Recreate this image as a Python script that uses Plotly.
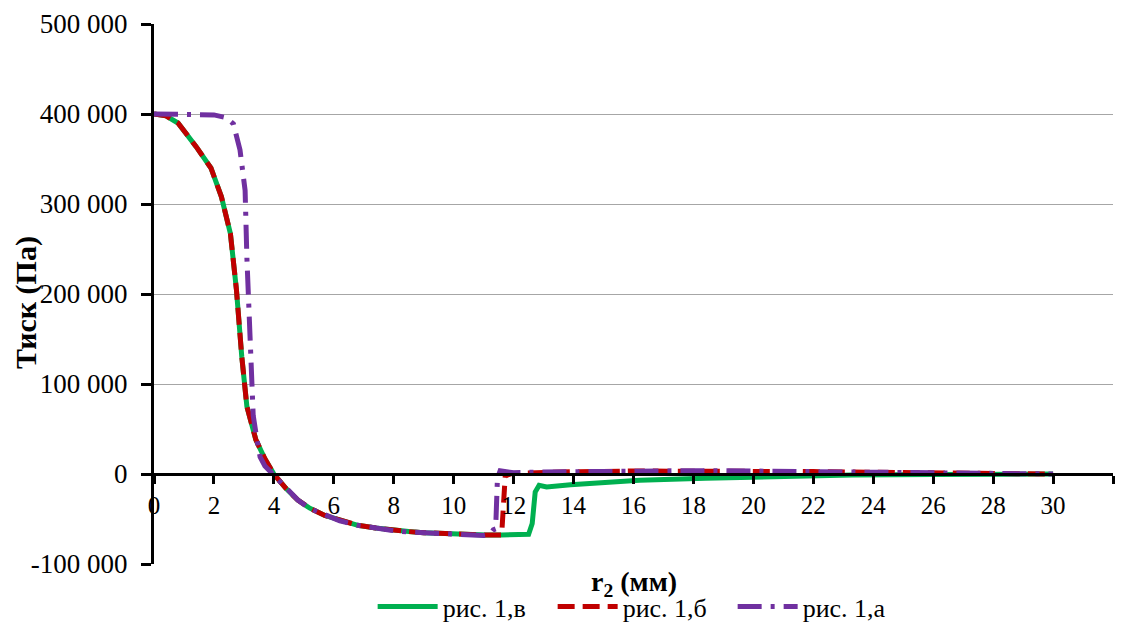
import plotly.graph_objects as go

# ---- data ----
x_v = [0, 0.4, 0.8, 1.4, 1.9, 2.25, 2.55, 2.75, 2.93, 3.1, 3.4, 3.7, 4.0, 4.4, 4.8, 5.2, 5.7, 6.2,
       6.8, 7.4, 7.9, 8.5, 9.0, 9.6, 10.1, 10.6, 11.1, 11.6, 12.0, 12.5, 12.62, 12.72, 12.85, 13.1,
       13.9, 15.4, 16.2, 18.4, 20.6, 23.3, 26.0, 30.0]
y_v = [400000, 398000, 390000, 364000, 340000, 308000, 267000, 205000, 130000, 75000, 38000, 17000,
       0, -16000, -29000, -38000, -46000, -51500, -57000, -60000, -62200, -64000, -65200, -66200,
       -67000, -67500, -67800, -67800, -67500, -67000, -55000, -20000, -12500, -14500, -12000,
       -8500, -7000, -4800, -3000, -1200, -500, 0]

x_b = [0, 0.4, 0.8, 1.4, 1.9, 2.25, 2.55, 2.75, 2.93, 3.1, 3.4, 3.7, 4.0, 4.4, 4.8, 5.2, 5.7, 6.2,
       6.8, 7.4, 7.9, 8.5, 9.0, 9.6, 10.1, 10.6, 11.1, 11.6, 11.66, 11.72, 11.95, 12.5, 14.0, 16.0,
       18.0, 20.0, 22.0, 24.0, 26.0, 28.0, 30.0]
y_b = [400000, 398000, 390000, 364000, 340000, 308000, 267000, 205000, 130000, 75000, 38000, 17000,
       0, -16000, -29000, -38000, -46000, -51500, -57000, -60000, -62200, -64000, -65200, -66200,
       -67000, -67500, -67800, -67800, -40000, -2000, 700, 1500, 2500, 3300, 3500, 3200, 2700, 2000,
       1300, 700, 0]

x_a = [0, 0.6, 1.4, 2.0, 2.4, 2.65, 2.87, 3.04, 3.1, 3.2, 3.26, 3.31, 3.42, 3.54, 3.7, 3.85, 4.0,
       4.4, 4.8, 5.2, 5.7, 6.2, 6.8, 7.4, 7.9, 8.5, 9.0, 9.6, 10.1, 10.6, 11.0, 11.2, 11.32, 11.4,
       11.46, 11.55, 11.7, 12.0, 13.0, 14.0, 16.0, 18.0, 20.0, 22.0, 24.0, 26.0, 28.0, 30.0]
y_a = [400000, 400000, 400000, 399000, 396000, 389000, 360000, 315000, 240000, 167000, 100000, 65000,
       41500, 19000, 9000, 4000, -1000, -16000, -29000, -38500, -46000, -52000, -57000, -60500,
       -62500, -64500, -65500, -66500, -67200, -67800, -68300, -67000, -62000, -61000, -5000, 3500,
       3000, 1500, 2200, 2600, 3500, 3700, 3300, 2800, 2000, 1300, 700, 0]

y_tickvals = [-100000, 0, 100000, 200000, 300000, 400000, 500000]
y_ticktext = ["-100 000", "0", "100 000", "200 000", "300 000", "400 000", "500 000"]
x_tickvals = [0, 2, 4, 6, 8, 10, 12, 14, 16, 18, 20, 22, 24, 26, 28, 30, 32]

FONT = "Liberation Serif, Times New Roman, serif"

# page has an 8px body margin: figure is sized to fit inside the 1127x624 window
W, H = 1111, 616

fig = go.Figure()
fig.add_trace(go.Scatter(x=x_v, y=y_v, mode="lines", name="рис. 1,в",
                         line=dict(color="#00b050", width=5)))
fig.add_trace(go.Scatter(x=x_b, y=y_b, mode="lines", name="рис. 1,б",
                         line=dict(color="#c00000", width=5, dash="17px,8px")))
fig.add_trace(go.Scatter(x=x_a, y=y_a, mode="lines", name="рис. 1,а",
                         line=dict(color="#7030a0", width=5, dash="24px,9px,4px,9px")))

fig.update_layout(
    width=W, height=H,
    margin=dict(l=146, r=6, t=16, b=60, autoexpand=False),
    paper_bgcolor="white", plot_bgcolor="white",
    font=dict(family=FONT, size=25, color="black"),
    showlegend=True,
    legend=dict(orientation="h", x=0.228, xanchor="left", y=-0.079, yanchor="middle",
                font=dict(family=FONT, size=26), bgcolor="rgba(0,0,0,0)",
                itemwidth=60, entrywidth=105, tracegroupgap=0),
    xaxis=dict(range=[0, 32], tickvals=x_tickvals, ticktext=[str(v) for v in x_tickvals],
               anchor="free", position=1/6, showline=True, linecolor="black", linewidth=3,
               ticks="outside", ticklen=8, tickwidth=3, tickcolor="black",
               showgrid=False, zeroline=False, tickfont=dict(family=FONT, size=25)),
    yaxis=dict(range=[-100000, 500000], tickvals=y_tickvals, ticktext=y_ticktext,
               showline=True, linecolor="black", linewidth=3,
               ticks="outside", ticklen=10, tickwidth=3, tickcolor="black",
               showgrid=True, gridcolor="#a6a6a6", gridwidth=1, zeroline=False,
               tickfont=dict(family=FONT, size=27), ticklabelstandoff=8),
)

# y-axis title
fig.add_annotation(text="<b>Тиск (Па)</b>", xref="paper", yref="paper",
                   x=-0.1335, y=0.485, xanchor="center", yanchor="middle", textangle=-90,
                   showarrow=False, font=dict(family=FONT, size=30))
# x-axis title
fig.add_annotation(text="<b>r<sub>2</sub> (мм)</b>", xref="paper", yref="paper",
                   x=0.5, y=0.0, xanchor="center", yanchor="top", showarrow=False,
                   font=dict(family=FONT, size=28))

fig.write_html("out.html")
